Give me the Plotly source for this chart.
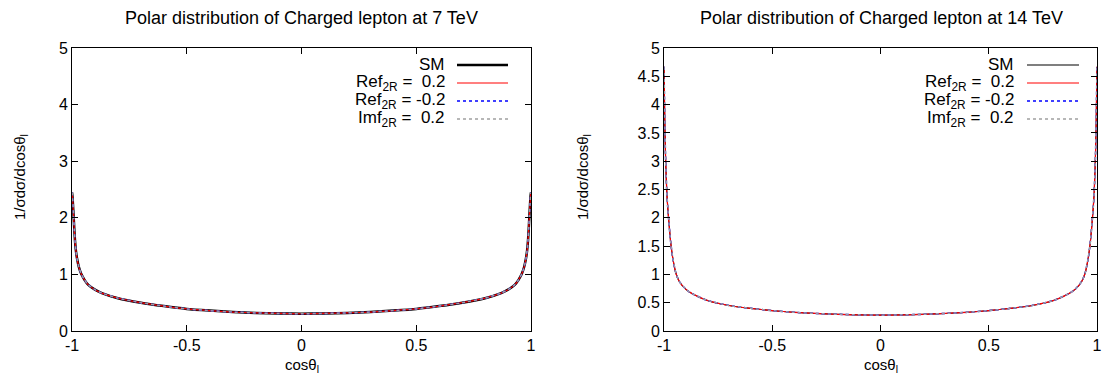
import plotly.graph_objects as go

# cos(theta_l) sample points
cos_theta = [-1.0, -0.998, -0.996, -0.993, -0.99, -0.987, -0.983, -0.978, -0.97, -0.96, -0.945, -0.93,
             -0.9, -0.87, -0.8, -0.7, -0.6, -0.5, -0.4, -0.3, -0.2, -0.1, 0.0,
             0.1, 0.2, 0.3, 0.4, 0.5, 0.6, 0.7, 0.8, 0.87, 0.9, 0.93, 0.945, 0.96,
             0.97, 0.978, 0.983, 0.987, 0.99, 0.993, 0.996, 0.998, 1.0]

# 7 TeV distribution
y7 = [2.45, 2.38, 2.25, 2.03, 1.8, 1.6, 1.42, 1.28, 1.13, 1.01, 0.9, 0.82,
      0.73, 0.67, 0.58, 0.5, 0.44, 0.39, 0.36, 0.335, 0.32, 0.31, 0.305,
      0.31, 0.32, 0.335, 0.36, 0.39, 0.44, 0.5, 0.58, 0.67, 0.73, 0.82, 0.9, 1.01,
      1.13, 1.28, 1.42, 1.6, 1.8, 2.03, 2.25, 2.38, 2.45]

# 14 TeV distribution
y14 = [4.67, 4.15, 3.65, 3.1, 2.75, 2.45, 2.2, 1.95, 1.6, 1.3, 1.02, 0.88,
       0.74, 0.66, 0.54, 0.45, 0.4, 0.36, 0.33, 0.31, 0.295, 0.285, 0.28,
       0.285, 0.295, 0.31, 0.33, 0.36, 0.4, 0.45, 0.54, 0.66, 0.74, 0.88, 1.02, 1.3,
       1.6, 1.95, 2.2, 2.45, 2.75, 3.1, 3.65, 4.15, 4.67]

series_names = ["SM", "Ref<sub>2R</sub> =  0.2", "Ref<sub>2R</sub> = -0.2", "Imf<sub>2R</sub> =  0.2"]
series_colors = ["#000000", "#ff0000", "#0000ff", "#a0a0a0"]
series_dash = ["solid", "solid", "dot", "dot"]

x_ticks = [-1, -0.5, 0, 0.5, 1]
x_tick_text = ["-1", "-0.5", "0", "0.5", "1"]
y_ticks_left = [0, 1, 2, 3, 4, 5]
y_ticks_right = [0, 0.5, 1, 1.5, 2, 2.5, 3, 3.5, 4, 4.5, 5]
y_tick_text_right = ["0", "0.5", "1", "1.5", "2", "2.5", "3", "3.5", "4", "4.5", "5"]

titles = ["Polar distribution of Charged lepton at 7 TeV", "Polar distribution of Charged lepton at 14 TeV"]

W, H = 1105, 383
FONT = "Liberation Sans, Arial, sans-serif"
FS_TICK = 16
FS_LEG = 17
FS_TITLE = 18
FS_LAB = 15


def px(x):
    return x / W


def py(y):
    return 1 - y / H


fig = go.Figure()

sm_width = [2.5, 1.1]
widths = [1.2, 1.5, 1.5]
for p, yvals in enumerate([y7, y14]):
    xa = "x" if p == 0 else "x2"
    ya = "y" if p == 0 else "y2"
    for i in range(4):
        w = sm_width[p] if i == 0 else widths[i - 1]
        fig.add_trace(go.Scatter(
            x=cos_theta, y=yvals, mode="lines", xaxis=xa, yaxis=ya,
            line=dict(color=series_colors[i], width=w, dash=series_dash[i], shape="spline", smoothing=0.5),
            showlegend=False, name=series_names[i].replace("<sub>", "").replace("</sub>", "")))

dom_x = [[px(72), px(531)], [px(664), px(1097)]]
dom_y = [py(331), py(48)]

axis_common = dict(showline=True, linecolor="black", linewidth=1, mirror="ticks",
                   ticks="inside", ticklen=6, tickcolor="black", showgrid=False,
                   zeroline=False, ticklabeloverflow="allow",
                   tickfont=dict(family=FONT, size=FS_TICK, color="black"))

fig.update_layout(
    width=W, height=H,
    margin=dict(l=0, r=0, t=0, b=0, autoexpand=False),
    paper_bgcolor="white", plot_bgcolor="white",
    font=dict(family=FONT, color="black"),
    xaxis=dict(domain=dom_x[0], range=[-1, 1], tickvals=x_ticks, ticktext=x_tick_text, anchor="y",
               **axis_common),
    yaxis=dict(domain=dom_y, range=[0, 5], tickvals=y_ticks_left, anchor="x", **axis_common),
    xaxis2=dict(domain=dom_x[1], range=[-1, 1], tickvals=x_ticks, ticktext=x_tick_text, anchor="y2",
                **axis_common),
    yaxis2=dict(domain=dom_y, range=[0, 5], tickvals=y_ticks_right, ticktext=y_tick_text_right,
                anchor="x2", **axis_common),
)

annotations = []
shapes = []
title_cx = [301, 881]
ylab_x = [20, 583]
for p in range(2):
    annotations.append(dict(text=titles[p], x=px(title_cx[p]), y=py(18), xref="paper", yref="paper",
                            showarrow=False, font=dict(family=FONT, size=FS_TITLE),
                            xanchor="center", yanchor="middle"))
    annotations.append(dict(text="cosθ<sub>l</sub>", x=(dom_x[p][0] + dom_x[p][1]) / 2, y=py(365),
                            xref="paper", yref="paper", showarrow=False, font=dict(family=FONT, size=FS_LAB),
                            xanchor="center", yanchor="middle"))
    annotations.append(dict(text="1/σdσ/dcosθ<sub>l</sub>", x=px(ylab_x[p]), y=py(177),
                            xref="paper", yref="paper", showarrow=False, textangle=-90,
                            font=dict(family=FONT, size=FS_LAB), xanchor="center", yanchor="middle"))

# legends (gnuplot style: right-aligned text, sample on the right)
leg_text_right = [447, 1016]
leg_line = [[457, 508], [1027, 1079]]
leg_rows = [65, 83, 101, 119]
for p in range(2):
    for i in range(4):
        yy = py(leg_rows[i])
        annotations.append(dict(text=series_names[i], x=px(leg_text_right[p]), y=yy, xref="paper", yref="paper",
                                showarrow=False, xanchor="right", yanchor="middle",
                                font=dict(family=FONT, size=FS_LEG)))
        w = sm_width[p] if i == 0 else widths[i - 1]
        shapes.append(dict(type="line", xref="paper", yref="paper", x0=px(leg_line[p][0]), x1=px(leg_line[p][1]),
                           y0=yy, y1=yy, line=dict(color=series_colors[i], width=w, dash=series_dash[i])))

fig.update_layout(annotations=annotations, shapes=shapes)
fig.write_html("out.html", config={"displayModeBar": False},
               post_script="document.body.style.margin='0';document.body.style.overflow='hidden';")
